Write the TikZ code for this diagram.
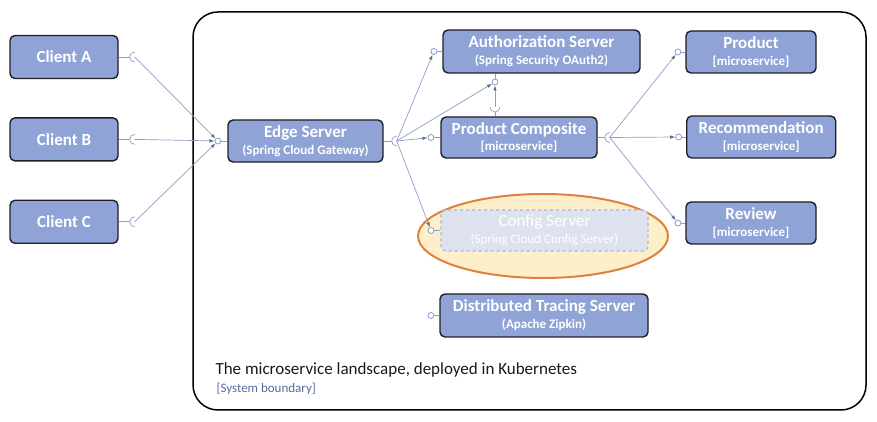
\documentclass[tikz,border=0pt]{standalone}
\usepackage{fontspec}
\setmainfont{Carlito}
\usetikzlibrary{arrows.meta, positioning, calc, shapes.geometric}
\definecolor{boxfill}{HTML}{8FA3D6}
\definecolor{boxline}{HTML}{1E1E28}
\definecolor{wirec}{HTML}{8D9DCB}
\definecolor{tipc}{HTML}{5E6B8F}
\definecolor{cfgfill}{HTML}{DDE2EE}
\definecolor{cfgline}{HTML}{A9B5D8}
\definecolor{ovalfill}{HTML}{FDEFC9}
\definecolor{ovalline}{HTML}{E0803D}
\definecolor{noteblue}{HTML}{5A6A9C}
\newcommand{\subline}[1]{{\fontsize{13}{13}\selectfont #1}}

\begin{document}
\begin{tikzpicture}[x=1pt, y=1pt,
    service/.style={rectangle, rounded corners=5pt, draw=boxline, line width=1.4pt, fill=boxfill, text=white, font=\fontsize{17}{17}\selectfont\bfseries, align=center, inner sep=0pt},
    lolli/.style={circle, draw=wirec, fill=white, line width=0.8pt, inner sep=0pt, minimum size=6pt},
    wire/.style={draw=wirec, line width=0.7pt},
    call/.style={wire, -{Latex[length=5pt, width=3.5pt, color=tipc]}}]
    \useasboundingbox (0,0) rectangle (877,422);
    % system boundary
    \draw[line width=1.5pt, rounded corners=25pt] (193,12) rectangle (866,410);
    \node[anchor=base west, font=\fontsize{17}{17}\selectfont, text=black!90] (landscape) at (212,47) {The microservice landscape, deployed in Kubernetes};
    \node[anchor=base west, font=\fontsize{13}{13}\selectfont, text=noteblue] (boundary) at (213,29) {[System boundary]};
    % clients
    \node[service, minimum width=108pt, minimum height=43pt] (ca) at (64,365) {Client A};
    \node[service, minimum width=108pt, minimum height=43pt, below=38pt of ca] (cb) {Client B};
    \node[service, minimum width=108pt, minimum height=43pt, below=38pt of cb] (cc) {Client C};
    % services
    \node[service, minimum width=155pt, minimum height=42pt] (edge) at (305.5,281) {Edge Server\\\subline{(Spring Cloud Gateway)}};
    \node[service, minimum width=197pt, minimum height=43pt] (auth) at (541.5,370.5) {Authorization Server\\\subline{(Spring Security OAuth2)}};
    \node[service, minimum width=156pt, minimum height=41pt] (pc) at (519,284.5) {Product Composite\\\subline{[microservice]}};
    \node[ellipse, draw=ovalline, line width=2pt, fill=ovalfill, minimum width=250pt, minimum height=84pt] (oval) at (543,186) {};
    \node[service, draw=cfgline, dashed, line width=1.2pt, fill=cfgfill, text=white, font=\fontsize{17}{17}\selectfont, minimum width=207pt, minimum height=41pt] (cfg) at (544.5,191.5) {Config Server\\\subline{(Spring Cloud Config Server)}};
    \node[service, minimum width=208pt, minimum height=43pt] (dts) at (544,106.5) {Distributed Tracing Server\\\subline{(Apache Zipkin)}};
    \node[service, minimum width=130pt, minimum height=42pt] (prod) at (751,370) {Product\\\subline{[microservice]}};
    \node[service, minimum width=149pt, minimum height=42pt, anchor=west] (rec) at (686,285) {Recommendation\\\subline{[microservice]}};
    \node[service, minimum width=130pt, minimum height=42pt] (rev) at (751,199) {Review\\\subline{[microservice]}};
    % provided interfaces
    \node[lolli, left=6pt of edge] (ledge) {};
    \node[lolli, left=5pt of auth] (lauth) {};
    \node[lolli] (lauthb) at (495,340) {};
    \node[lolli, left=6pt of pc] (lpc) {};
    \node[lolli, left=6pt of cfg] (lcfg) {};
    \node[lolli, left=5pt of dts] (ldts) {};
    \node[lolli, left=4pt of prod] (lprod) {};
    \node[lolli, left=4pt of rec] (lrec) {};
    \node[lolli, left=4pt of rev] (lrev) {};
    \foreach \a/\b in {ledge/edge, lauth/auth, lpc/pc, lcfg/cfg, ldts/dts, lprod/prod, lrec/rec, lrev/rev}
        \draw[wire] (\a) -- (\b);
    \draw[wire] (lauthb) -- (lauthb |- auth.south);
    % required interfaces
    \coordinate (sa) at ([xshift=16pt]ca.east);
    \coordinate (sb) at ([xshift=16pt]cb.east);
    \coordinate (sc) at ([xshift=16pt]cc.east);
    \coordinate (sedge) at ([xshift=13pt]edge.east);
    \coordinate (spc) at ([xshift=12pt]pc.east);
    \coordinate (spt) at (495,315);
    \foreach \b/\s in {ca/sa, cb/sb, cc/sc, edge/sedge, pc/spc} {
        \draw[wire] (\b.east) -- ([xshift=-5pt]\s);
        \draw[wire] ([yshift=5pt]\s) arc[start angle=90, end angle=270, radius=5pt];
    }
    \draw[wire] (pc.north -| spt) -- ([yshift=-5pt]spt);
    \draw[wire] ([xshift=-5pt]spt) arc[start angle=180, end angle=360, radius=5pt];
    % calls
    \foreach \s in {sa, sb, sc}
        \draw[call] (\s) -- (ledge);
    \foreach \t in {lauth, lauthb, lpc, lcfg}
        \draw[call] (sedge) -- (\t);
    \draw[call] (spt) -- (lauthb);
    \foreach \t in {lprod, lrec, lrev}
        \draw[call] (spc) -- (\t);
\end{tikzpicture}
\end{document}
